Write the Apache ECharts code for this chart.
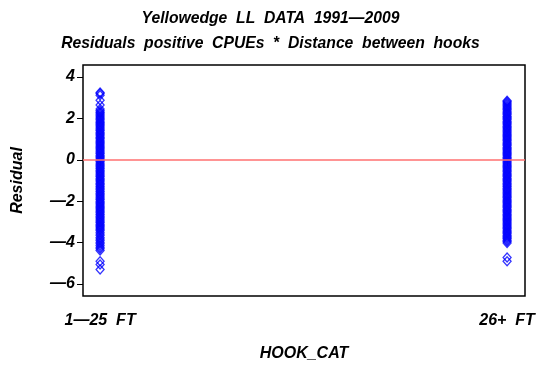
<!DOCTYPE html>
<html>
<head>
<meta charset="utf-8">
<style>
html, body { margin: 0; padding: 0; background: #fff; }
#chart { width: 541px; height: 368px; }
</style>
<script src="https://cdn.jsdelivr.net/npm/echarts@6/dist/echarts.min.js"></script>
</head>
<body>
<div id="chart"></div>
<script>
// categories of hook spacing, placed at x = 1 and x = 2
var categories = ['1—25  FT', '26+  FT'];
var catPos = [1, 2];
var yTicks = [-6, -4, -2, 0, 2, 4];

// residuals, 1-25 FT
var hook1 = [3.25, 3.2, 3.12, 2.88, 2.65, 2.46, 2.38, 2.31, 2.26, 2.2, 2.13, 2.07, 2.01, 1.95, 1.88, 1.82,
  1.77, 1.7, 1.64, 1.58, 1.52, 1.45, 1.4, 1.33, 1.27, 1.21, 1.15, 1.08, 1.03, 0.96, 0.9, 0.84, 0.78,
  0.71, 0.66, 0.59, 0.53, 0.47, 0.41, 0.34, 0.29, 0.22, 0.16, 0.1, 0.04, -0.03, -0.08, -0.15, -0.21,
  -0.27, -0.33, -0.4, -0.45, -0.52, -0.58, -0.64, -0.7, -0.77, -0.82, -0.89, -0.95, -1.01, -1.07,
  -1.14, -1.19, -1.26, -1.32, -1.38, -1.44, -1.51, -1.56, -1.63, -1.69, -1.75, -1.81, -1.88, -1.93,
  -2.0, -2.06, -2.12, -2.18, -2.25, -2.3, -2.37, -2.43, -2.49, -2.55, -2.62, -2.67, -2.74, -2.8,
  -2.86, -2.92, -2.99, -3.04, -3.11, -3.17, -3.23, -3.29, -3.36, -3.42, -3.5, -3.58, -3.66, -3.75,
  -3.83, -3.9, -3.98, -4.06, -4.14, -4.22, -4.3, -4.38, -4.9, -5.06, -5.3];

// residuals, 26+ FT
var hook2 = [2.85, 2.8, 2.74, 2.68, 2.61, 2.55, 2.49, 2.43, 2.36, 2.3, 2.24, 2.18, 2.11, 2.05, 1.99,
  1.93, 1.86, 1.8, 1.74, 1.68, 1.61, 1.55, 1.49, 1.43, 1.36, 1.3, 1.24, 1.18, 1.11, 1.05, 0.99, 0.93,
  0.86, 0.8, 0.74, 0.68, 0.61, 0.55, 0.49, 0.43, 0.36, 0.3, 0.24, 0.18, 0.11, 0.05, -0.01, -0.07,
  -0.14, -0.2, -0.26, -0.32, -0.39, -0.45, -0.51, -0.57, -0.64, -0.7, -0.76, -0.82, -0.89, -0.95,
  -1.01, -1.07, -1.14, -1.2, -1.26, -1.32, -1.39, -1.45, -1.51, -1.57, -1.64, -1.7, -1.76, -1.82,
  -1.89, -1.95, -2.01, -2.07, -2.14, -2.2, -2.26, -2.32, -2.39, -2.45, -2.51, -2.57, -2.64, -2.7,
  -2.76, -2.82, -2.89, -2.95, -3.01, -3.07, -3.14, -3.2, -3.26, -3.32, -3.39, -3.45, -3.51, -3.57,
  -3.64, -3.7, -3.76, -3.82, -3.89, -3.95, -4.02, -4.72, -4.9];

var refLine = 0;

var font = 'Liberation Sans, Arial, Helvetica, sans-serif';
var points = hook1.map(function (v) { return [catPos[0], v]; })
  .concat(hook2.map(function (v) { return [catPos[1], v]; }));

var myChart = echarts.init(document.getElementById('chart'), null, { renderer: 'canvas' });
var option = {
    animation: false,
    backgroundColor: '#fff',
    title: {
        text: 'Yellowedge  LL  DATA  1991—2009\nResiduals  positive  CPUEs  *  Distance  between  hooks',
        left: 'center',
        top: 1,
        textStyle: {
            fontFamily: font,
            fontSize: 15.7,
            fontStyle: 'italic',
            fontWeight: 'bold',
            color: '#000',
            lineHeight: 25
        }
    },
    grid: {
        left: 83,
        right: 16,
        top: 65,
        bottom: 72,
        outerBoundsMode: 'none',
        containLabel: false,
        show: true,
        borderColor: '#000',
        borderWidth: 1.5,
        backgroundColor: 'transparent'
    },
    xAxis: {
        type: 'value',
        min: 0.958,
        max: 2.044,
        name: 'HOOK_CAT',
        nameLocation: 'middle',
        nameGap: 50,
        nameTextStyle: { fontFamily: font, fontSize: 16, fontStyle: 'italic', fontWeight: 'bold', color: '#000' },
        axisLine: { show: false },
        splitLine: { show: false },
        axisTick: { show: true, length: 6, customValues: catPos, lineStyle: { color: '#000', width: 1 } },
        axisLabel: {
            customValues: catPos,
            margin: 17,
            fontFamily: font, fontSize: 16, fontStyle: 'italic', fontWeight: 'bold', color: '#000',
            formatter: function (v) { return categories[catPos.indexOf(v)] || ''; }
        }
    },
    yAxis: {
        type: 'value',
        min: -6.58,
        max: 4.58,
        name: 'Residual',
        nameLocation: 'middle',
        nameGap: 57,
        nameRotate: 90,
        nameTextStyle: { fontFamily: font, fontSize: 16, fontStyle: 'italic', fontWeight: 'bold', color: '#000' },
        axisLine: { show: false },
        splitLine: { show: false },
        axisTick: { show: true, length: 6, customValues: yTicks, lineStyle: { color: '#000', width: 1 } },
        axisLabel: {
            customValues: yTicks,
            margin: 8,
            fontFamily: font, fontSize: 16, fontStyle: 'italic', fontWeight: 'bold', color: '#000',
            formatter: function (v) { return String(v).replace('-', '—'); }
        }
    },
    series: [
        {
            type: 'line',
            data: [],
            z: 1,
            markLine: {
                silent: true,
                symbol: 'none',
                label: { show: false },
                lineStyle: { color: '#ff7070', width: 1.5, type: 'solid' },
                data: [{ yAxis: refLine }]
            }
        },
        {
            type: 'scatter',
            z: 3,
            symbol: 'diamond',
            symbolSize: [8, 9],
            itemStyle: { color: 'rgba(0,0,0,0)', borderColor: '#0000ff', borderWidth: 1.3 },
            data: points
        }
    ]
};
myChart.setOption(option);
</script>
</body>
</html>
